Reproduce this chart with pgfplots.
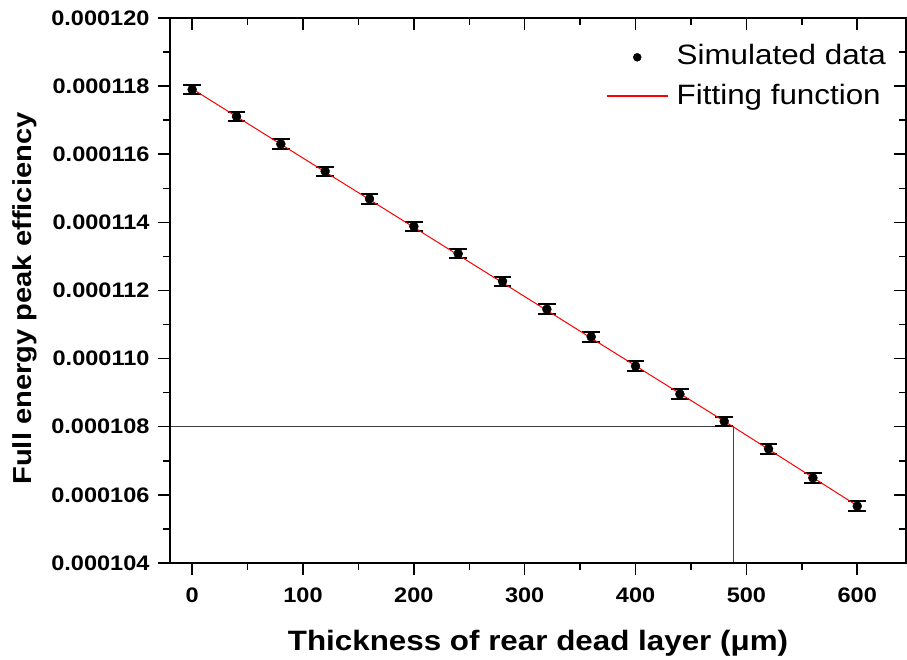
\documentclass[border=0pt]{standalone}
\usepackage{fontspec}
\setmainfont{Liberation Sans}[FakeStretch=1.12]
\usepackage{pgfplots}
\pgfplotsset{compat=1.18}
\usetikzlibrary{calc}

\pgfplotsset{
  common/.style={
    scale only axis,
    width=736pt, height=545pt,
    xmin=-20, xmax=644,
    ymin=1.04e-4, ymax=1.20e-4,
    xtick={0,100,...,600},
    ytick={1.04e-4,1.06e-4,1.08e-4,1.10e-4,1.12e-4,1.14e-4,1.16e-4,1.18e-4,1.20e-4},
    minor x tick num=1, minor y tick num=1,
    major tick length=12pt, minor tick length=7pt,
    axis line style={line width=1.8pt},
    every tick/.style={black, line width=1.5pt},
    scaled y ticks=false,
  },
  dotleg/.style={legend image code/.code={%
      \fill[black] (30pt,1.2pt) circle[radius=4pt];}},
  lineleg/.style={legend image code/.code={%
      \path (0pt,2.4pt) rectangle (60pt,3.2pt);}},
}

\begin{document}
\begin{tikzpicture}
% main axis: outward ticks on bottom and left
\begin{axis}[
    common, name=ax,
    tick align=outside,
    xtick pos=left, ytick pos=left,
    /pgf/number format/assume math mode=true,
    tick label style={font=\fontsize{21}{25}\selectfont\bfseries},
    xticklabel style={yshift=-9pt},
    yticklabel style={xshift=-5pt, /pgf/number format/.cd, fixed, fixed zerofill, precision=6},
    xlabel={Thickness of rear dead layer (μm)},
    ylabel={Full energy peak efficiency},
    xlabel style={font=\fontsize{28}{32}\selectfont\bfseries,
        at={(axis description cs:0.5,0)}, anchor=center, yshift=-80pt},
    ylabel style={font=\fontsize{26}{30}\selectfont\bfseries,
        at={(axis description cs:0,0.5)}, anchor=center, yshift=145pt, xshift=-8pt},
    legend style={draw=none, fill=none, inner sep=0pt, outer sep=0pt,
        at={(rel axis cs:0.5934,1)}, anchor=north west, yshift=-28pt,
        font=\fontsize{28}{32}\selectfont, row sep=15pt, column sep=9pt,
        nodes={inner sep=0pt, text height=19pt, text depth=6pt}},
    legend cell align=left,
]
% reading lines at 0.000108
\addplot[black!75, line width=0.9pt, forget plot] coordinates {(-20,1.08e-4) (488,1.08e-4) (488,1.04e-4)};

\addplot[only marks, mark=*, mark size=4.5pt, black, dotleg,
    error bars/.cd, y dir=both, y explicit,
    error bar style={line width=1.5pt},
    error mark options={rotate=90, mark size=8.8pt, line width=2pt}]
coordinates {
(0,1.1790e-4)   +- (0,1.4e-7)
(40,1.1711e-4)  +- (0,1.4e-7)
(80,1.1630e-4)  +- (0,1.4e-7)
(120,1.1550e-4) +- (0,1.4e-7)
(160,1.1469e-4) +- (0,1.4e-7)
(200,1.1388e-4) +- (0,1.4e-7)
(240,1.1308e-4) +- (0,1.4e-7)
(280,1.1227e-4) +- (0,1.4e-7)
(320,1.1145e-4) +- (0,1.4e-7)
(360,1.1064e-4) +- (0,1.4e-7)
(400,1.0978e-4) +- (0,1.4e-7)
(440,1.0896e-4) +- (0,1.4e-7)
(480,1.0816e-4) +- (0,1.4e-7)
(520,1.0735e-4) +- (0,1.4e-7)
(560,1.0650e-4) +- (0,1.4e-7)
(600,1.0567e-4) +- (0,1.4e-7)
};
\addlegendentry{Simulated data}

% fitting function
\addplot[red, line width=1pt, lineleg]
coordinates {(0,1.1792e-4) (488,1.0800e-4) (600,1.0568e-4)};
\addlegendentry{Fitting function}
\end{axis}

% overlay: inward ticks on top and right
\begin{axis}[
    common,
    tick align=inside,
    xtick pos=right, ytick pos=right,
    xticklabels={}, yticklabels={},
]
\end{axis}

\pgfresetboundingbox
\path[use as bounding box] ($(ax.south west)+(-170pt,-97pt)$) rectangle ($(ax.north east)+(1pt,18pt)$);
\end{tikzpicture}
\end{document}
